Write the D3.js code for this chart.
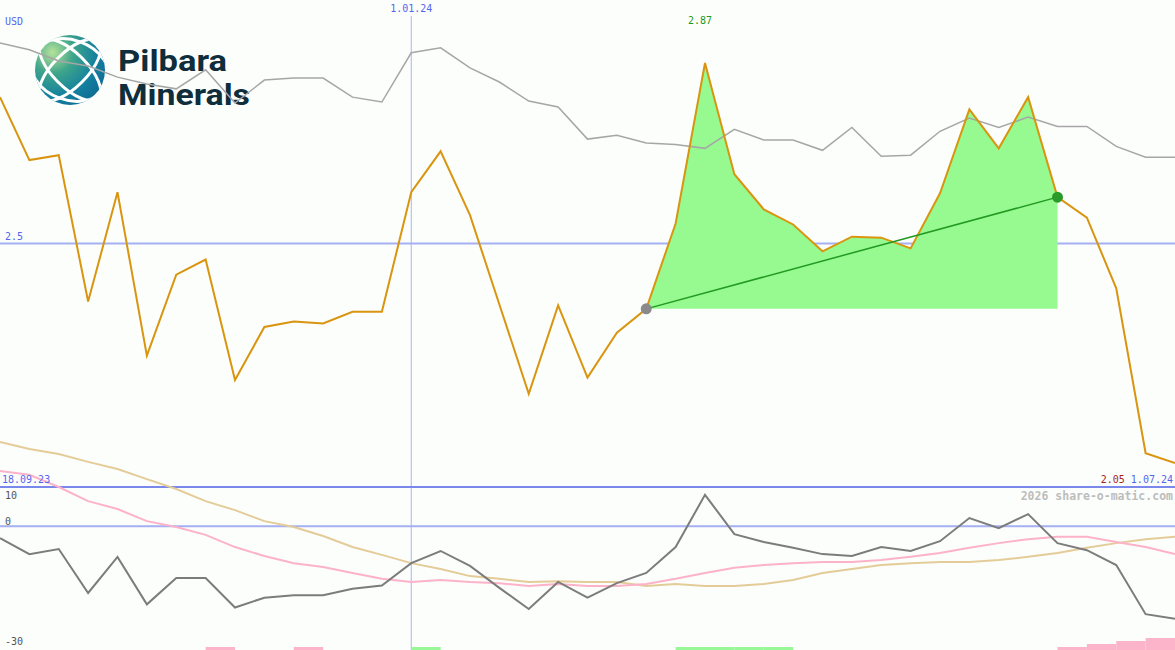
<!DOCTYPE html>
<html>
<head>
<meta charset="utf-8">
<script src="https://cdn.jsdelivr.net/npm/d3@7"></script>
<style>
  html, body { margin: 0; padding: 0; background: #fcfefc; }
  svg { display: block; }
  text { font-family: "DejaVu Sans Mono", monospace; font-size: 10px; }
</style>
</head>
<body>
<svg id="chart" width="1175" height="650"></svg>
<script>
// ---------- DATA ----------
const startLabel = "18.09.23";
const midLabel = "1.01.24";
const midIndex = 14;
const endLabel = "1.07.24";
const currency = "USD";
const refLevel = 2.5;
const maxLabel = "2.87";
const lastLabel = "2.05";
const copyright = "2026 share-o-matic.com";
const indTicks = [10, 0, -30];
const logoWords = ["Pilbara", "Minerals"];

// weekly close price (USD)
const price = [2.800, 2.671, 2.681, 2.381, 2.605, 2.270, 2.436, 2.467, 2.220, 2.329,
  2.340, 2.336, 2.360, 2.360, 2.605, 2.689, 2.558, 2.375, 2.192, 2.373,
  2.225, 2.317, 2.366, 2.541, 2.870, 2.642, 2.570, 2.539, 2.484, 2.514,
  2.512, 2.490, 2.603, 2.775, 2.695, 2.800, 2.595, 2.553, 2.408, 2.070, 2.050];

// comparison line (rebased on price scale)
const compare = [2.911, 2.897, 2.874, 2.864, 2.841, 2.827, 2.817, 2.856, 2.788, 2.835,
  2.839, 2.839, 2.800, 2.790, 2.891, 2.901, 2.860, 2.831, 2.792, 2.780,
  2.714, 2.722, 2.706, 2.703, 2.695, 2.734, 2.712, 2.712, 2.691, 2.738,
  2.679, 2.681, 2.730, 2.757, 2.738, 2.759, 2.740, 2.740, 2.699, 2.677, 2.677];

// indicator panel series
const momentum = [-3.0, -7.1, -5.8, -17.0, -7.8, -19.9, -13.2, -13.2, -20.7, -18.2,
  -17.6, -17.6, -15.9, -15.1, -9.4, -6.3, -10.1, -15.7, -21.1, -14.2,
  -18.2, -14.5, -11.9, -5.3, 8.0, -2.0, -4.0, -5.5, -7.1, -7.6,
  -5.3, -6.3, -3.8, 2.1, -0.5, 3.1, -4.3, -6.1, -9.9, -22.4, -23.6];

const avgFast = [14.1, 13.1, 10.0, 6.4, 4.4, 1.3, -0.2, -2.2, -5.3, -7.6,
  -9.4, -10.4, -11.9, -13.4, -14.2, -13.7, -14.2, -14.5, -15.2, -14.7,
  -15.2, -15.2, -14.7, -13.4, -11.9, -10.6, -9.9, -9.4, -9.1, -9.1,
  -8.6, -7.8, -6.8, -5.5, -4.3, -3.3, -2.7, -2.7, -4.0, -5.3, -7.1];

const avgSlow = [21.5, 19.7, 18.4, 16.4, 14.6, 12.0, 9.5, 6.4, 4.1, 1.3,
  -0.2, -2.5, -5.3, -7.3, -9.4, -10.9, -12.7, -13.4, -14.2, -14.0,
  -14.2, -14.2, -15.2, -14.7, -15.2, -15.2, -14.7, -13.7, -11.9, -10.9,
  -9.9, -9.4, -9.1, -9.1, -8.6, -7.8, -6.8, -5.5, -4.3, -3.3, -2.7];

// signal bars: + buy strength, - sell strength
const signal = [0, 0, 0, 0, 0, 0, 0, -1, 0, 0,
  -1, 0, 0, 0, 1, 0, 0, 0, 0, 0,
  0, 0, 0, 1, 1, 1, 1, 0, 0, 0,
  0, 0, 0, 0, 0, 0, -1, -2, -3, -4, 0];

// highlighted trend segment
const trendStart = 22;
const trendEnd = 36;

// ---------- CHART ----------
const W = 1175, H = 650;
const svg = d3.select("#chart");
const idx = d3.range(price.length);

const x = d3.scaleLinear().domain([0, price.length - 1]).range([0, W]);
const y = d3.scaleLinear().domain([2.05, 2.87]).range([463, 63]);
const yi = d3.scaleLinear().domain([-30, 10]).range([644, 487]);

// ---- logo ----
const defs = svg.append("defs");
const grad = defs.append("radialGradient").attr("id", "globeGrad")
  .attr("cx", "25%").attr("cy", "25%").attr("r", "85%");
grad.append("stop").attr("offset", "0%").attr("stop-color", "#b6e39a");
grad.append("stop").attr("offset", "35%").attr("stop-color", "#3fa58a");
grad.append("stop").attr("offset", "75%").attr("stop-color", "#13809f");
grad.append("stop").attr("offset", "100%").attr("stop-color", "#0f6e96");
defs.append("clipPath").attr("id", "globeClip")
  .append("circle").attr("cx", 70).attr("cy", 70).attr("r", 35);

const logo = svg.append("g").attr("class", "logo");
logo.append("circle").attr("cx", 70).attr("cy", 70).attr("r", 35).attr("fill", "url(#globeGrad)");
const gl = logo.append("g").attr("clip-path", "url(#globeClip)")
  .attr("fill", "none").attr("stroke", "#ffffff").attr("stroke-width", 3);
gl.append("ellipse").attr("cx", 70).attr("cy", 70).attr("rx", 40).attr("ry", 17)
  .attr("transform", "rotate(45 70 70)");
gl.append("ellipse").attr("cx", 70).attr("cy", 70).attr("rx", 40).attr("ry", 17)
  .attr("transform", "rotate(-45 70 70)");
gl.append("ellipse").attr("cx", 70).attr("cy", 70).attr("rx", 40).attr("ry", 30)
  .attr("transform", "rotate(20 70 70)");

const logoStyle = sel => sel
  .style("font-family", "Roboto, 'Open Sans', sans-serif").style("font-weight", 700)
  .style("font-size", "29px").attr("fill", "#0f2d3b").attr("lengthAdjust", "spacingAndGlyphs");
logo.append("text").attr("x", 118).attr("y", 70.5).text(logoWords[0])
  .attr("textLength", 109).call(logoStyle);
logo.append("text").attr("x", 118).attr("y", 104.5).text(logoWords[1])
  .attr("textLength", 132).call(logoStyle);

// ---- grid / reference lines ----
svg.append("line").attr("x1", x(midIndex)).attr("x2", x(midIndex))
  .attr("y1", 16).attr("y2", H).attr("stroke", "#a8b4f4").attr("stroke-width", 1);
svg.append("line").attr("x1", 0).attr("x2", W).attr("y1", y(refLevel)).attr("y2", y(refLevel))
  .attr("stroke", "#a4b0f2").attr("stroke-width", 2);
svg.append("line").attr("x1", 0).attr("x2", W).attr("y1", yi(0)).attr("y2", yi(0))
  .attr("stroke", "#a4b0f2").attr("stroke-width", 2);
svg.append("line").attr("x1", 0).attr("x2", W).attr("y1", 487).attr("y2", 487)
  .attr("stroke", "#7a88ec").attr("stroke-width", 2);

// ---- signal bars ----
svg.append("g").selectAll("rect").data(idx.filter(i => signal[i] !== 0)).join("rect")
  .attr("x", i => x(i)).attr("width", i => x(i + 1) - x(i))
  .attr("y", i => H - 3 * Math.abs(signal[i])).attr("height", i => 3 * Math.abs(signal[i]))
  .attr("fill", i => signal[i] > 0 ? "#98f898" : "#fbb4c9");

// ---- trend fill ----
const seg = d3.range(trendStart, trendEnd + 1);
const base = price[trendStart];
svg.append("path").datum(seg)
  .attr("d", d3.area().x(i => x(i)).y0(y(base)).y1(i => y(price[i])))
  .attr("fill", "#96fa90");

// ---- comparison line ----
const lineOf = (arr, sc) => d3.line().x(i => x(i)).y(i => sc(arr[i]));
svg.append("path").datum(idx).attr("d", lineOf(compare, y))
  .attr("fill", "none").attr("stroke", "#a6a6a6").attr("stroke-width", 1.5);

// ---- indicator lines ----
svg.append("path").datum(idx).attr("d", lineOf(avgSlow, yi))
  .attr("fill", "none").attr("stroke", "#e4cc98").attr("stroke-width", 2);
svg.append("path").datum(idx).attr("d", lineOf(avgFast, yi))
  .attr("fill", "none").attr("stroke", "#fcb2c8").attr("stroke-width", 2);
svg.append("path").datum(idx).attr("d", lineOf(momentum, yi))
  .attr("fill", "none").attr("stroke", "#7c7c7c").attr("stroke-width", 2);

// ---- price line ----
svg.append("path").datum(idx).attr("d", lineOf(price, y))
  .attr("fill", "none").attr("stroke", "#d9950f").attr("stroke-width", 2);

// ---- trend line & dots ----
svg.append("line").attr("x1", x(trendStart)).attr("y1", y(price[trendStart]))
  .attr("x2", x(trendEnd)).attr("y2", y(price[trendEnd]))
  .attr("stroke", "#229a22").attr("stroke-width", 1.5);
svg.append("circle").attr("cx", x(trendStart)).attr("cy", y(price[trendStart])).attr("r", 5.5)
  .attr("fill", "#8a8a8a");
svg.append("circle").attr("cx", x(trendEnd)).attr("cy", y(price[trendEnd])).attr("r", 5.5)
  .attr("fill", "#2a9a2a");

// ---- texts ----
const blue = "#5566ee";
svg.append("text").attr("x", 5).attr("y", 25).attr("fill", blue).text(currency);
svg.append("text").attr("x", x(midIndex)).attr("y", 12).attr("text-anchor", "middle")
  .attr("fill", blue).text(midLabel);
const maxI = d3.maxIndex(price);
svg.append("text").attr("x", x(maxI) - 5).attr("y", 24).attr("text-anchor", "middle")
  .attr("fill", "#229a22").text(maxLabel);
svg.append("text").attr("x", 5).attr("y", y(refLevel) - 3).attr("fill", blue).text(String(refLevel));
svg.append("text").attr("x", 2).attr("y", 483).attr("fill", blue).text(startLabel);
const endT = svg.append("text").attr("x", W - 2).attr("y", 483).attr("text-anchor", "end");
endT.append("tspan").attr("fill", "#aa2222").text(lastLabel + " ");
endT.append("tspan").attr("fill", blue).text(endLabel);
svg.append("text").attr("x", W - 2).attr("y", 500).attr("text-anchor", "end")
  .attr("fill", "#bdbdbd").style("font-weight", "bold").style("font-size", "11.5px").text(copyright);

svg.append("text").attr("x", 5).attr("y", 499).attr("fill", "#555").text(String(indTicks[0]));
svg.append("text").attr("x", 5).attr("y", 525).attr("fill", "#555").text(String(indTicks[1]));
svg.append("text").attr("x", 5).attr("y", 645).attr("fill", "#555").text(String(indTicks[2]));
</script>
</body>
</html>
